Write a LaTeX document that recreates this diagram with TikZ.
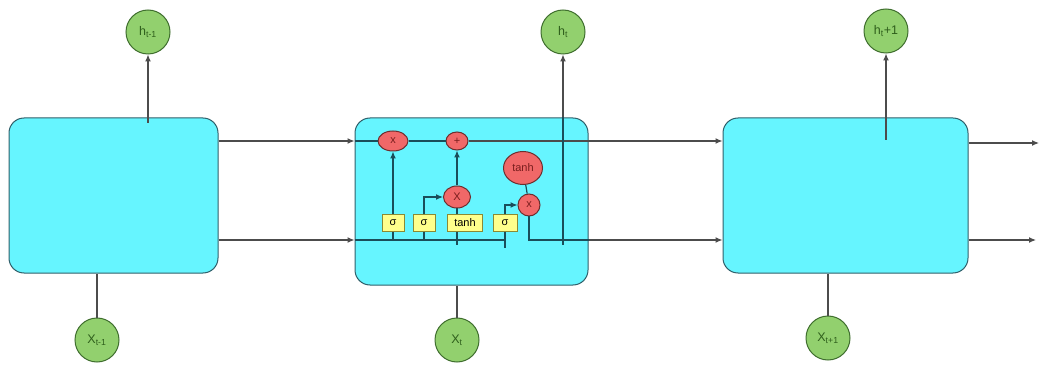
\documentclass[tikz,border=0pt]{standalone}
\usepackage{fontspec}
\setmainfont{Liberation Sans}
\usetikzlibrary{arrows.meta}
\definecolor{cellfill}{HTML}{66F5FF}
\definecolor{celldraw}{HTML}{2F5F6A}
\definecolor{iofill}{HTML}{92D06E}
\definecolor{iodraw}{HTML}{3F6E2E}
\definecolor{iotext}{HTML}{2F5F1C}
\definecolor{opfill}{HTML}{F06868}
\definecolor{opdraw}{HTML}{6E2E2E}
\definecolor{optext}{HTML}{7A1E1E}
\definecolor{gatefill}{HTML}{FFFF8C}
\definecolor{gatedraw}{HTML}{8A8A34}
\definecolor{wire}{HTML}{1A4E5A}
\tikzset{
  cell/.style={draw=celldraw,fill=cellfill,rounded corners=15pt,line width=1pt},
  io/.style={circle,draw=iodraw,fill=iofill,minimum size=44pt,inner sep=0pt,line width=1pt,text=iotext,font=\fontsize{12.5}{13}\selectfont},
  op/.style={ellipse,draw=opdraw,fill=opfill,inner sep=0pt,line width=1pt,text=optext,font=\fontsize{11}{12}\selectfont},
  gate/.style={draw=gatedraw,fill=gatefill,minimum height=17pt,inner sep=0pt,line width=1pt,font=\fontsize{11}{12}\selectfont},
  arr/.style={-{Latex[length=7pt,width=6pt]}},
  outer/.style={draw=black!70,line width=1.2pt},
  inner/.style={draw=wire,line width=1.2pt}
}
\usetikzlibrary{shapes.geometric}
\begin{document}
\begin{tikzpicture}[x=1pt,y=-1pt]
  \useasboundingbox (0,0) rectangle (1039,366);
  % three cells
  \node[cell,minimum width=209pt,minimum height=155pt] (cellA) at (113.5,195.5) {};
  \node[cell,minimum width=233pt,minimum height=167pt] (cellB) at (471.5,201.5) {};
  \node[cell,minimum width=245pt,minimum height=155pt] (cellC) at (845.5,195.5) {};
  \coordinate (topY) at (0,141);
  \coordinate (botY) at (0,240);
  % outputs and inputs
  \node[io] (hA) at (148,32) {h\textsubscript{t-1}};
  \node[io] (hB) at (563,32) {h\textsubscript{t}};
  \node[io] (hC) at (886,31) {h\textsubscript{t}+1};
  \node[io] (xA) at (97,340) {X\textsubscript{t-1}};
  \node[io] (xB) at (457,340) {X\textsubscript{t}};
  \node[io] (xC) at (828,338) {X\textsubscript{t+1}};
  \coordinate (hAfoot) at (148,123);
  \coordinate (hBfoot) at (563,245);
  \coordinate (hCfoot) at (886,140);
  \draw[outer,arr] (hAfoot) -- (hA);
  \draw[outer,arr] (hCfoot) -- (hC);
  \draw[outer] (xA) -- (xA |- cellA.south);
  \draw[outer] (xB) -- (xB |- cellB.south);
  \draw[outer] (xC) -- (xC |- cellC.south);
  % links between cells
  \draw[outer,arr] (cellA.east |- topY) -- (cellB.west |- topY);
  \draw[outer,arr] (cellA.east |- botY) -- (cellB.west |- botY);
  \coordinate (endT) at (1039,143);
  \coordinate (endB) at (1036,240);
  \draw[outer,arr] (cellC.east |- endT) -- (endT);
  \draw[outer,arr] (cellC.east |- endB) -- (endB);
  % inside the middle cell
  \node[op,minimum width=30pt,minimum height=20pt] (mulF) at (393,141) {x};
  \node[op,minimum width=22pt,minimum height=18pt] (addC) at (457,141) {+};
  \node[op,minimum width=27pt,minimum height=22pt] (mulI) at (457,197) {X};
  \node[op,minimum width=39pt,minimum height=33pt] (tanhC) at (523,168) {tanh};
  \node[op,minimum width=22pt,minimum height=22pt] (mulO) at (529,205) {x};
  \node[gate,minimum width=22pt] (sigF) at (393,223) {σ};
  \node[gate,minimum width=22pt] (sigI) at (424,223) {σ};
  \node[gate,minimum width=35pt] (tanhI) at (465,223) {tanh};
  \node[gate,minimum width=24pt] (sigO) at (505,223) {σ};
  \draw[inner] (cellB.west |- topY) -- (mulF) -- (addC);
  \draw[outer,arr] (addC) -- (cellC.west |- topY);
  \draw[inner] (cellB.west |- botY) -- (sigO |- botY);
  \draw[inner] (sigF.south) -- (sigF |- botY);
  \draw[inner,arr] (sigF.north) -- (mulF);
  \draw[inner] (sigI.south) -- (sigI |- botY);
  \draw[inner,arr] (sigI.north) |- (mulI);
  \draw[inner] (mulI |- tanhI.south) -- (mulI |- 0,245);
  \draw[inner] (mulI |- tanhI.north) -- (mulI);
  \draw[inner,arr] (mulI) -- (addC);
  \draw[inner] (sigO.south) -- (sigO |- 0,248);
  \draw[inner,arr] (sigO.north) |- (mulO);
  \draw[inner] (tanhC) -- (mulO);
  \draw[inner] (mulO.south) |- (cellB.east |- botY);
  \draw[outer,arr] (cellB.east |- botY) -- (cellC.west |- botY);
  \draw[inner] (hBfoot) -- (hB |- cellB.north);
  \draw[outer,arr] (hB |- cellB.north) -- (hB);
\end{tikzpicture}
\end{document}
